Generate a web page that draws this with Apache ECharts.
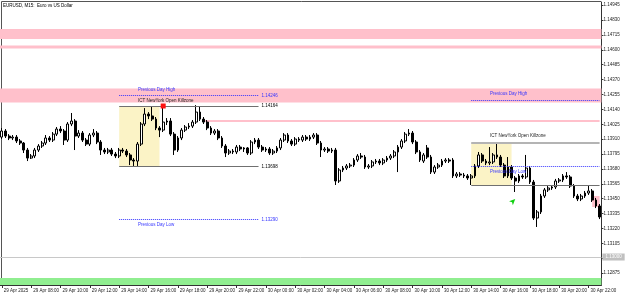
<!DOCTYPE html>
<html>
<head>
<meta charset="utf-8">
<script src="https://cdn.jsdelivr.net/npm/echarts@6/dist/echarts.min.js"></script>
<style>
  html, body { margin: 0; padding: 0; background: #fff; }
  #chart { width: 625px; height: 297px; }
</style>
</head>
<body>
<div id="chart"></div>
<script>
// EURUSD M15, 29 Apr 2025 06:00 -> 30 Apr 22:45
const opens = [
  1.13926,1.13973,1.13934,1.13919,1.13926,1.13896,1.13880,1.13826,1.13764,1.13780,
  1.13826,1.13857,1.13880,1.13919,1.13903,1.13949,1.13988,1.13973,1.13903,1.14027,
  1.14050,1.13934,1.13957,1.13903,1.13872,1.13942,1.13957,1.13888,1.13826,1.13811,
  1.13826,1.13795,1.13780,1.13826,1.13818,1.13788,1.13749,1.13741,1.13872,1.14027,
  1.14104,1.14089,1.14065,1.13996,1.13980,1.14042,1.14050,1.13949,1.13826,1.13919,
  1.13980,1.14004,1.14011,1.14042,1.14119,1.14065,1.14042,1.13996,1.13957,1.13973,
  1.13919,1.13857,1.13803,1.13818,1.13811,1.13849,1.13834,1.13842,1.13803,1.13888,
  1.13903,1.13849,1.13826,1.13834,1.13803,1.13818,1.13842,1.13903,1.13942,1.13896,
  1.13872,1.13911,1.13903,1.13926,1.13911,1.13926,1.13942,1.13880,1.13826,1.13834,
  1.13818,1.13826,1.13587,1.13672,1.13687,1.13703,1.13710,1.13749,1.13780,1.13772,
  1.13695,1.13703,1.13734,1.13741,1.13726,1.13749,1.13764,1.13780,1.13811,1.13849,
  1.13896,1.13949,1.13957,1.13888,1.13811,1.13741,1.13842,1.13772,1.13656,1.13695,
  1.13710,1.13741,1.13749,1.13749,1.13626,1.13641,1.13633,1.13626,1.13610,1.13626,
  1.13703,1.13788,1.13741,1.13726,1.13734,1.13788,1.13772,1.13710,1.13626,1.13695,
  1.13610,1.13587,1.13626,1.13618,1.13687,1.13579,1.13301,1.13348,1.13471,1.13518,
  1.13533,1.13541,1.13587,1.13595,1.13626,1.13618,1.13548,1.13471,1.13448,1.13471,
  1.13494,1.13510,1.13440,1.13394
];
const closes = [
  1.13973,1.13934,1.13919,1.13926,1.13896,1.13880,1.13826,1.13764,1.13780,1.13826,
  1.13857,1.13880,1.13919,1.13903,1.13949,1.13988,1.13973,1.13903,1.14027,1.14050,
  1.13934,1.13957,1.13903,1.13872,1.13942,1.13957,1.13888,1.13826,1.13811,1.13826,
  1.13795,1.13780,1.13826,1.13818,1.13788,1.13749,1.13741,1.13872,1.14027,1.14104,
  1.14089,1.14065,1.13996,1.13980,1.14042,1.14050,1.13949,1.13826,1.13919,1.13980,
  1.14004,1.14011,1.14042,1.14119,1.14065,1.14042,1.13996,1.13957,1.13973,1.13919,
  1.13857,1.13803,1.13818,1.13811,1.13849,1.13834,1.13842,1.13803,1.13888,1.13903,
  1.13849,1.13826,1.13834,1.13803,1.13818,1.13842,1.13903,1.13942,1.13896,1.13872,
  1.13911,1.13903,1.13926,1.13911,1.13926,1.13942,1.13880,1.13826,1.13834,1.13818,
  1.13826,1.13587,1.13672,1.13687,1.13703,1.13710,1.13749,1.13780,1.13772,1.13695,
  1.13703,1.13734,1.13741,1.13726,1.13749,1.13764,1.13780,1.13811,1.13849,1.13896,
  1.13949,1.13957,1.13888,1.13811,1.13749,1.13788,1.13772,1.13656,1.13695,1.13710,
  1.13741,1.13749,1.13741,1.13626,1.13641,1.13633,1.13626,1.13610,1.13626,1.13703,
  1.13788,1.13741,1.13726,1.13734,1.13788,1.13772,1.13710,1.13626,1.13695,1.13610,
  1.13587,1.13626,1.13618,1.13687,1.13579,1.13301,1.13348,1.13471,1.13518,1.13533,
  1.13541,1.13587,1.13595,1.13626,1.13618,1.13548,1.13471,1.13448,1.13471,1.13494,
  1.13510,1.13440,1.13394,1.13309
];
const lows = [
  1.13911,1.13919,1.13903,1.13903,1.13880,1.13865,1.13803,1.13741,1.13757,1.13764,
  1.13811,1.13842,1.13865,1.13888,1.13888,1.13934,1.13957,1.13865,1.13888,1.14011,
  1.13826,1.13919,1.13888,1.13857,1.13857,1.13926,1.13872,1.13788,1.13795,1.13795,
  1.13780,1.13764,1.13764,1.13803,1.13772,1.13710,1.13703,1.13703,1.13857,1.14011,
  1.14065,1.14050,1.13980,1.13926,1.13965,1.14019,1.13934,1.13788,1.13811,1.13903,
  1.13965,1.13988,1.13996,1.14027,1.14050,1.14027,1.13980,1.13942,1.13942,1.13903,
  1.13842,1.13772,1.13788,1.13795,1.13795,1.13818,1.13811,1.13788,1.13788,1.13872,
  1.13834,1.13811,1.13811,1.13788,1.13788,1.13803,1.13826,1.13888,1.13880,1.13857,
  1.13857,1.13888,1.13888,1.13896,1.13896,1.13911,1.13865,1.13772,1.13811,1.13803,
  1.13803,1.13556,1.13572,1.13656,1.13672,1.13687,1.13695,1.13734,1.13757,1.13680,
  1.13680,1.13687,1.13718,1.13710,1.13710,1.13734,1.13749,1.13764,1.13656,1.13834,
  1.13880,1.13934,1.13872,1.13795,1.13734,1.13726,1.13757,1.13641,1.13641,1.13680,
  1.13695,1.13726,1.13726,1.13610,1.13610,1.13618,1.13610,1.13595,1.13556,1.13610,
  1.13687,1.13726,1.13710,1.13710,1.13718,1.13757,1.13695,1.13610,1.13610,1.13595,
  1.13502,1.13572,1.13603,1.13603,1.13564,1.13286,1.13232,1.13332,1.13456,1.13502,
  1.13518,1.13525,1.13572,1.13579,1.13603,1.13533,1.13456,1.13432,1.13432,1.13456,
  1.13479,1.13425,1.13378,1.13293
];
const highs = [
  1.13996,1.13988,1.13949,1.13942,1.13942,1.13911,1.13888,1.13842,1.13795,1.13842,
  1.13872,1.13896,1.13942,1.13934,1.13965,1.14004,1.14011,1.13988,1.14042,1.14112,
  1.14065,1.13980,1.13973,1.13919,1.13957,1.13988,1.13973,1.13903,1.13842,1.13842,
  1.13842,1.13811,1.13842,1.13842,1.13834,1.13803,1.13764,1.13888,1.14042,1.14150,
  1.14119,1.14166,1.14081,1.14011,1.14166,1.14073,1.14073,1.13965,1.13934,1.13996,
  1.14019,1.14034,1.14058,1.14173,1.14166,1.14081,1.14058,1.14011,1.13988,1.13988,
  1.13934,1.13872,1.13834,1.13834,1.13865,1.13865,1.13849,1.13849,1.13903,1.13919,
  1.13919,1.13865,1.13849,1.13849,1.13834,1.13857,1.13919,1.13957,1.13957,1.13911,
  1.13926,1.13926,1.13942,1.13942,1.13942,1.13957,1.13957,1.13896,1.13849,1.13849,
  1.13842,1.13842,1.13687,1.13703,1.13718,1.13726,1.13764,1.13795,1.13803,1.13788,
  1.13718,1.13749,1.13757,1.13757,1.13764,1.13780,1.13795,1.13826,1.13865,1.13911,
  1.13965,1.13988,1.13973,1.13903,1.13826,1.13803,1.13865,1.13788,1.13710,1.13726,
  1.13757,1.13764,1.13764,1.13764,1.13656,1.13656,1.13649,1.13641,1.13641,1.13718,
  1.13811,1.13803,1.13757,1.13849,1.13803,1.13880,1.13788,1.13726,1.13772,1.13710,
  1.13626,1.13641,1.13641,1.13788,1.13703,1.13595,1.13363,1.13487,1.13533,1.13548,
  1.13556,1.13603,1.13610,1.13641,1.13656,1.13633,1.13564,1.13487,1.13487,1.13510,
  1.13556,1.13525,1.13456,1.13409
];

// right price scale labels
const yTicks = [1.14945, 1.14830, 1.14715, 1.14600, 1.14485, 1.14370, 1.14255, 1.14140,
  1.14025, 1.13910, 1.13795, 1.13680, 1.13565, 1.13450, 1.13335, 1.13220, 1.13105, 1.12990, 1.12875];

// indicator levels: [29 Apr, 30 Apr]
const kzHigh = [1.14164, 1.13880];
const kzLow = [1.13698, 1.13556];
const pdHigh = [1.14246, 1.14212];
const pdLow = [1.13290, 1.13699];
const kzStart = [32, 128];   // 14:00 bar
const kzEnd = [43, 139];     // 16:45 bar
const dayEnd = [70, 163];
const pinkZones = [[1.14760, 1.14683], [1.14633, 1.14610], [1.14301, 1.14193]];
const pinkLine = [1.14058, 1.14042];
const pinkBox = [1.13471, 1.13386];
const greenZone = [1.12838, 1.12784];
const roundLevel = 1.13000;

const months = ["Jan", "Feb", "Mar", "Apr", "May", "Jun", "Jul", "Aug", "Sep", "Oct", "Nov", "Dec"];
const times = [];
for (let i = 0; i < opens.length; i++) {
  let d = new Date(Date.UTC(2025, 3, 29, 6, 0) + i * 15 * 60000);
  let hh = String(d.getUTCHours()).padStart(2, "0");
  let mm = String(d.getUTCMinutes()).padStart(2, "0");
  times.push(d.getUTCDate() + " " + months[d.getUTCMonth()] + " " + hh + ":" + mm);
}

let candles = opens.map((o, i) => [o, closes[i], lows[i], highs[i]]);

let chart = echarts.init(document.getElementById("chart"), null, { renderer: "canvas" });

const small = { fontSize: 4.5, fontFamily: "Liberation Sans" };
const blue = "#3535ff";
const pink = { color: "#ffc0cb" };
const yellow = { color: "#fbf3c6" };

function priceLabel(v, color) {
  return { show: true, position: "end", distance: 3, formatter: v.toFixed(5), color: color, ...small };
}
function textMark(idx, price, text, color) {
  return {
    coord: [times[idx], price], symbol: "circle", symbolSize: 1,
    itemStyle: { color: "rgba(0,0,0,0)" },
    label: { show: true, position: "right", distance: 0, formatter: text, color: color, ...small }
  };
}

let areas = [];
pinkZones.forEach(z => areas.push([{ yAxis: z[0], itemStyle: pink }, { yAxis: z[1] }]));
areas.push([{ xAxis: times[55], yAxis: pinkLine[0], itemStyle: pink }, { xAxis: times[163], yAxis: pinkLine[1] }]);
areas.push([{ xAxis: times[161], yAxis: pinkBox[0], itemStyle: pink }, { xAxis: times[163], yAxis: pinkBox[1] }]);
areas.push([{ yAxis: greenZone[0], itemStyle: { color: "#90ee90" } }, { yAxis: greenZone[1] }]);
for (let k = 0; k < 2; k++) {
  areas.push([{ xAxis: times[kzStart[k]], yAxis: kzHigh[k], itemStyle: yellow }, { xAxis: times[kzEnd[k]], yAxis: kzLow[k] }]);
}

let lines = [];
for (let k = 0; k < 2; k++) {
  let a = times[kzStart[k]], b = times[dayEnd[k]];
  let showLbl = k === 0;
  lines.push([{ coord: [a, kzHigh[k]], lineStyle: { color: k ? "#b4b4b4" : "#707070", width: k ? 2 : 1, type: "solid" },
    label: showLbl ? priceLabel(kzHigh[k], "#000") : { show: false } }, { coord: [b, kzHigh[k]] }]);
  lines.push([{ coord: [a, kzLow[k]], lineStyle: { color: "#707070", width: 1, type: "solid" },
    label: showLbl ? priceLabel(kzLow[k], "#000") : { show: false } }, { coord: [b, kzLow[k]] }]);
  lines.push([{ coord: [a, pdHigh[k]], lineStyle: { color: blue, width: 1, type: "dotted" },
    label: showLbl ? priceLabel(pdHigh[k], blue) : { show: false } }, { coord: [b, pdHigh[k]] }]);
  lines.push([{ coord: [a, pdLow[k]], lineStyle: { color: blue, width: 1, type: "dotted" },
    label: showLbl ? priceLabel(pdLow[k], blue) : { show: false } }, { coord: [b, pdLow[k]] }]);
}
lines.push({ yAxis: roundLevel, lineStyle: { color: "#c8c8c8", width: 1, type: "solid" },
  label: { show: true, position: "end", distance: 1, formatter: roundLevel.toFixed(5), color: "#fff",
    backgroundColor: "#c0c0c0", padding: [1, 3], ...small } });

let marks = [
  { coord: [times[44], highs[44]], symbol: "rect", symbolSize: [5, 5], itemStyle: { color: "#ff1010" }, label: { show: false } },
  { coord: [times[140], 1.13448], symbol: "arrow", symbolSize: [4, 6], symbolRotate: -45, itemStyle: { color: "#10d010" }, label: { show: false } }
];
let texts = [
  textMark(37, 1.14289, "Previous Day High", blue),
  textMark(37, 1.14204, "ICT NewYork Open Killzone", "#222"),
  textMark(37, 1.13247, "Previous Day Low", blue),
  textMark(133, 1.14258, "Previous Day High", blue),
  textMark(133, 1.13934, "ICT NewYork Open Killzone", "#222"),
  textMark(133, 1.13656, "Previous Day Low", blue)
];

let option = {
  animation: false,
  textStyle: { fontFamily: "Liberation Sans" },
  title: {
    text: "EURUSD, M15:  Euro vs US Dollar", left: 3, top: 3, padding: 0,
    textStyle: { fontSize: 4.5, fontWeight: "normal", color: "#000", fontFamily: "Liberation Sans" }
  },
  grid: { left: -1.3, right: 23.6, top: 2, bottom: 12 },
  xAxis: {
    type: "category",
    data: times,
    boundaryGap: true,
    axisLine: { lineStyle: { color: "#333", width: 1 } },
    axisTick: { show: true, length: 3, alignWithLabel: true, interval: (i) => i % 8 === 0, lineStyle: { color: "#333" } },
    axisLabel: {
      interval: (i) => i % 8 === 0,
      formatter: (v, i) => (i === 0 ? "29 Apr 2025" : v),
      align: "left", margin: 3, padding: [0, 0, 0, 2], color: "#222", ...small
    },
    splitLine: { show: false }
  },
  yAxis: {
    type: "value",
    position: "right",
    min: 1.12784,
    max: 1.14969,
    splitLine: { show: false },
    axisLine: { show: true, lineStyle: { color: "#333" } },
    axisTick: { show: true, length: 2, customValues: yTicks, lineStyle: { color: "#333" } },
    axisLabel: { customValues: yTicks, formatter: (v) => v.toFixed(5), margin: 2, color: "#222", ...small }
  },
  graphic: [
    { type: "line", shape: { x1: 1.5, y1: 1.5, x2: 1.5, y2: 285 }, style: { stroke: "#555", lineWidth: 1 } },
    { type: "line", shape: { x1: 1.5, y1: 1.5, x2: 601, y2: 1.5 }, style: { stroke: "#555", lineWidth: 1 } }
  ],
  series: [
    {
      type: "line",
      data: [],
      z: 1,
      silent: true,
      markArea: { silent: true, data: areas }
    },
    {
      type: "candlestick",
      data: candles,
      z: 3,
      barWidth: "60%",
      itemStyle: { color: "#ffffff", color0: "#000000", borderColor: "#000000", borderColor0: "#000000", borderWidth: 1 },
      markLine: { silent: true, symbol: ["none", "none"], data: lines },
      markPoint: { silent: true, data: marks }
    },
    {
      type: "line",
      data: [],
      z: 20,
      silent: true,
      markPoint: { silent: true, z: 20, data: texts }
    }
  ]
};

chart.setOption(option);
</script>
</body>
</html>
